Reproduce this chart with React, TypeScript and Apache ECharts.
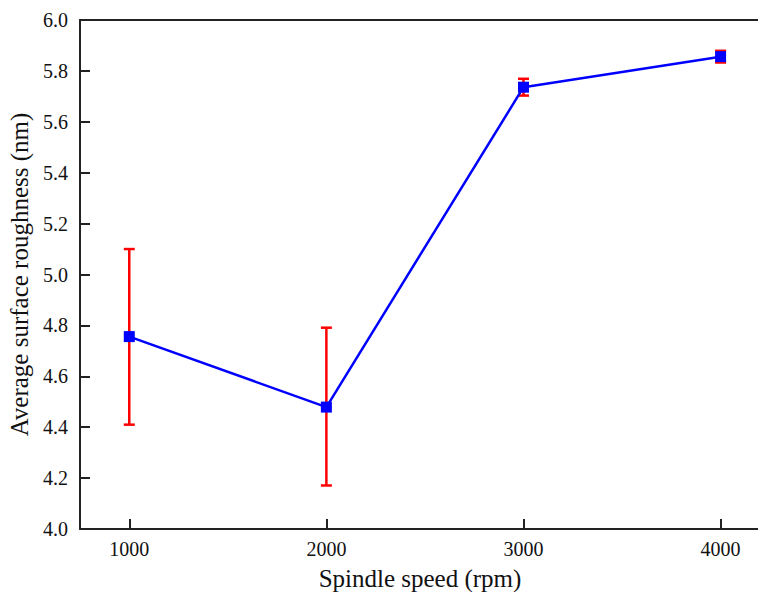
import React, { useEffect, useRef } from "react";
import * as echarts from "echarts";

const speeds = [1000, 2000, 3000, 4000];
const roughness = [4.756, 4.479, 5.736, 5.856];
const errLow = [4.41, 4.171, 5.703, 5.833];
const errHigh = [5.10, 4.791, 5.769, 5.879];
const yTicks = { min: 4.0, max: 6.0, interval: 0.2 };

export default function App() {
  const ref = useRef<HTMLDivElement>(null);
  useEffect(() => {
    document.body.style.margin = "0";
    const chart = echarts.init(ref.current!, null, { renderer: "svg" });
    const font = "Liberation Serif";
    const lineData = speeds.map((s, i) => [s, roughness[i]]);
    const errData = speeds.map((s, i) => [s, errLow[i], errHigh[i]]);
    chart.setOption({
      animation: false,
      backgroundColor: "#ffffff",
      textStyle: { fontFamily: font },
      grid: { left: 80, right: -2, top: 20, bottom: 63, containLabel: false, outerBoundsMode: "none" },
      xAxis: [
        {
          type: "value",
          min: 750,
          max: 4200,
          position: "bottom",
          name: "Spindle speed (rpm)",
          nameLocation: "middle",
          nameGap: 37,
          nameTextStyle: { fontFamily: font, fontSize: 25, color: "#111" },
          axisLine: { show: true, lineStyle: { color: "#222", width: 2 } },
          axisTick: {
            show: true,
            inside: true,
            length: 10,
            customValues: speeds,
            lineStyle: { color: "#222", width: 2 },
          },
          axisLabel: {
            fontFamily: font,
            fontSize: 20,
            color: "#111",
            margin: 10,
            customValues: speeds,
            formatter: (v: number) => String(v),
          },
          splitLine: { show: false },
        },
        {
          type: "value",
          min: 750,
          max: 4200,
          position: "top",
          axisLine: { show: true, onZero: false, lineStyle: { color: "#222", width: 2 } },
          axisTick: { show: false },
          axisLabel: { show: false },
          splitLine: { show: false },
        },
      ],
      yAxis: {
        type: "value",
        min: yTicks.min,
        max: yTicks.max,
        interval: yTicks.interval,
        name: "Average surface roughness (nm)",
        nameLocation: "middle",
        nameGap: 43,
        nameTextStyle: { fontFamily: font, fontSize: 25, color: "#111" },
        axisLine: { show: true, lineStyle: { color: "#222", width: 2 } },
        axisTick: { show: true, inside: true, length: 10, lineStyle: { color: "#222", width: 2 } },
        axisLabel: {
          fontFamily: font,
          fontSize: 20,
          color: "#111",
          margin: 12,
          formatter: (v: number) => v.toFixed(1),
        },
        splitLine: { show: false },
      },
      series: [
        {
          type: "custom",
          name: "error",
          data: errData,
          encode: { x: 0, y: [1, 2] },
          z: 2,
          renderItem: (params: any, api: any) => {
            const x = api.value(0);
            const lo = api.coord([x, api.value(1)]);
            const hi = api.coord([x, api.value(2)]);
            const hw = 5.5;
            const style = { stroke: "#ff0000", lineWidth: 2.5 };
            return {
              type: "group",
              children: [
                { type: "line", shape: { x1: lo[0], y1: lo[1], x2: hi[0], y2: hi[1] }, style },
                { type: "line", shape: { x1: lo[0] - hw, y1: lo[1], x2: lo[0] + hw, y2: lo[1] }, style },
                { type: "line", shape: { x1: hi[0] - hw, y1: hi[1], x2: hi[0] + hw, y2: hi[1] }, style },
              ],
            };
          },
        },
        {
          type: "line",
          name: "roughness",
          data: lineData,
          z: 3,
          symbol: "rect",
          symbolSize: 11,
          lineStyle: { color: "#0000ff", width: 2.5 },
          itemStyle: { color: "#0000ff" },
        },
      ],
    });
    return () => chart.dispose();
  }, []);
  return <div ref={ref} style={{ width: 758, height: 592 }} />;
}
